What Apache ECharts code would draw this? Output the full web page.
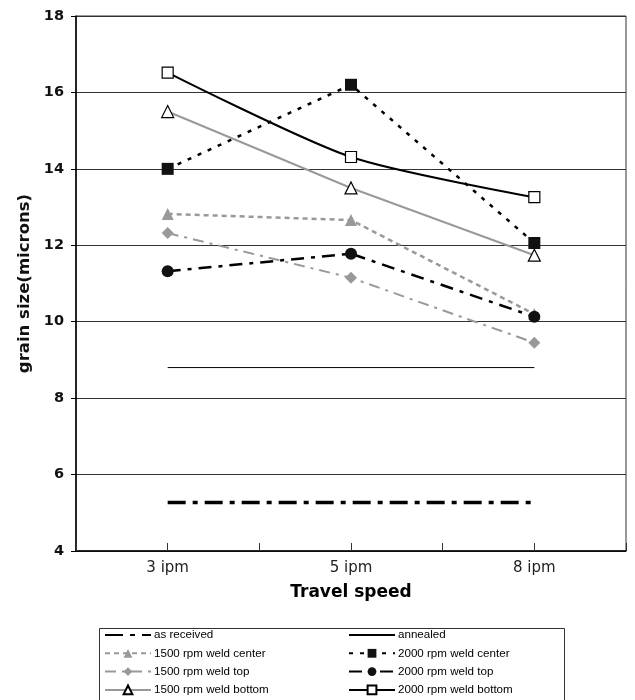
<!DOCTYPE html>
<html>
<head>
<meta charset="utf-8">
<script src="https://cdn.jsdelivr.net/npm/echarts@6/dist/echarts.min.js"></script>
<style>
html,body{margin:0;padding:0;background:#fff;}
#chart{width:635px;height:700px;}
</style>
</head>
<body>
<div id="chart"></div>
<script>
const categories = ['3 ipm', '5 ipm', '8 ipm'];
const asReceived = [5.27, 5.27, 5.27];
const annealed = [8.8, 8.8, 8.8];
const c1500Center = [12.82, 12.66, 10.2];
const c2000Center = [14.0, 16.2, 12.06];
const c1500Top = [12.32, 11.15, 9.45];
const c2000Top = [11.32, 11.78, 10.13];
const c1500Bottom = [15.5, 13.5, 11.74];
const c2000Bottom = [16.52, 14.31, 13.26];
const yTicks = { min: 4, max: 18, interval: 2 };

const GREY = '#999999';
const FONT = 'Liberation Sans, Arial, sans-serif';
const WIDE = 'DejaVu Sans, Verdana, sans-serif';

function lineSeries(name, data, color, width, dash, symbol, size, fill, border, extra) {
  return Object.assign({
    name: name,
    type: 'line',
    xAxisIndex: 0,
    data: data,
    symbol: symbol,
    symbolSize: size,
    showSymbol: symbol !== 'none',
    lineStyle: { color: color, width: width, type: dash },
    itemStyle: { color: fill, borderColor: border, borderWidth: fill === '#ffffff' ? 1.2 : 0 },
    emphasis: { disabled: true },
    animation: false
  }, extra || {});
}

const series = [
  lineSeries('as received', asReceived, '#000', 3.5, [18, 7, 5, 7], 'none', 0, '#000', '#000'),
  lineSeries('annealed', annealed, '#000', 1, 'solid', 'none', 0, '#000', '#000'),
  lineSeries('1500 rpm weld center', c1500Center, GREY, 2.5, [5, 4], 'triangle', 12, GREY, GREY),
  lineSeries('2000 rpm weld center', c2000Center, '#000', 2.5, [4, 7], 'rect', 12, '#111', '#111'),
  lineSeries('1500 rpm weld top', c1500Top, GREY, 2, [11, 6, 3, 6], 'diamond', 12, GREY, GREY),
  lineSeries('2000 rpm weld top', c2000Top, '#000', 2.5, [13, 7, 4, 7], 'circle', 12, '#111', '#111'),
  lineSeries('1500 rpm weld bottom', c1500Bottom, GREY, 2, 'solid', 'triangle', 12, '#ffffff', '#000'),
  lineSeries('2000 rpm weld bottom', c2000Bottom, '#000', 2, 'solid', 'rect', 11, '#ffffff', '#000', { smooth: 0.25 })
];

const noSymbol = { color: 'rgba(0,0,0,0)', borderWidth: 0, opacity: 0 };

const legendCommon = {
  orient: 'vertical',
  top: 629,
  padding: 0,
  itemHeight: 11,
  itemGap: 6.3,
  itemWidth: 46,
  selectedMode: false,
  textStyle: { fontFamily: FONT, fontSize: 11.6, color: '#000', padding: [0, 0, 0, -2] }
};

const chart = echarts.init(document.getElementById('chart'), null, { renderer: 'canvas' });
chart.setOption({
  backgroundColor: '#fff',
  animation: false,
  grid: { left: 76, right: 9, top: 16, bottom: 149, show: true, borderColor: '#333', borderWidth: 1, backgroundColor: 'transparent' },
  xAxis: [
    {
      type: 'category',
      data: categories,
      boundaryGap: true,
      name: 'Travel speed',
      nameLocation: 'middle',
      nameGap: 33,
      nameTextStyle: { fontFamily: WIDE, fontSize: 17, fontWeight: 'bold', color: '#000' },
      axisLine: { lineStyle: { color: '#000', width: 1.5 } },
      axisTick: { show: true, inside: true, length: 8, lineStyle: { color: '#333' } },
      axisLabel: { fontFamily: WIDE, fontSize: 15, color: '#222', margin: 10 },
      splitLine: { show: false }
    },
    {
      type: 'category',
      data: categories,
      boundaryGap: true,
      position: 'bottom',
      axisLine: { show: false },
      axisTick: { show: true, inside: true, length: 8, alignWithLabel: true, lineStyle: { color: '#333' } },
      axisLabel: { show: false },
      splitLine: { show: false }
    }
  ],
  yAxis: {
    type: 'value',
    min: yTicks.min,
    max: yTicks.max,
    interval: yTicks.interval,
    name: 'grain size(microns)',
    nameLocation: 'middle',
    nameGap: 43,
    nameTextStyle: { fontFamily: WIDE, fontSize: 16.5, fontWeight: 'bold', color: '#111' },
    axisLine: { show: true, lineStyle: { color: '#000', width: 1.5 } },
    axisTick: { show: true, length: 5, lineStyle: { color: '#000' } },
    axisLabel: { fontFamily: WIDE, fontSize: 14.5, fontWeight: 'bold', color: '#111', margin: 12 },
    splitLine: { show: true, lineStyle: { color: '#333', width: 1 } }
  },
  legend: [
    Object.assign({}, legendCommon, { left: 104, data: [
      { name: 'as received', itemStyle: noSymbol },
      '1500 rpm weld center', '1500 rpm weld top', '1500 rpm weld bottom'] }),
    Object.assign({}, legendCommon, { left: 348, data: [
      { name: 'annealed', itemStyle: noSymbol },
      '2000 rpm weld center', '2000 rpm weld top', '2000 rpm weld bottom'] })
  ],
  graphic: [
    { type: 'rect', left: 97, top: 626, shape: { width: 465, height: 90 }, style: { fill: 'none', stroke: '#333', lineWidth: 1 }, z: -1 }
  ],
  series: series
});
</script>
</body>
</html>
